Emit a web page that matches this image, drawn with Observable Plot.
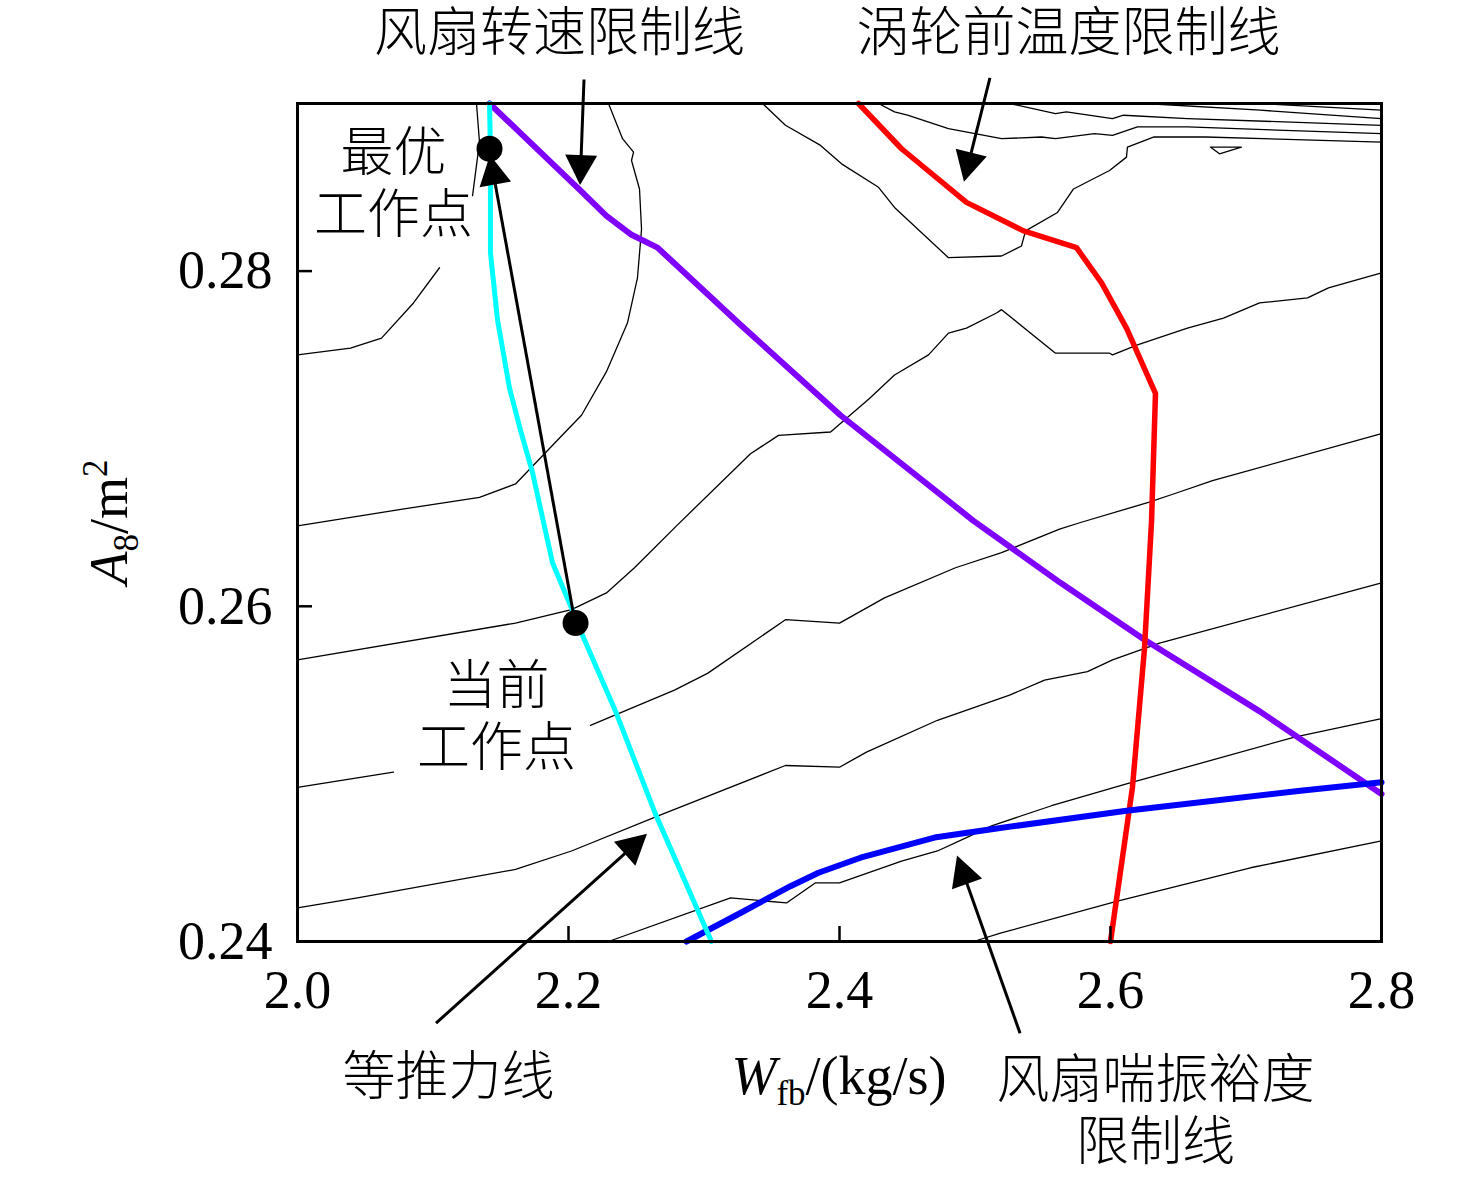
<!DOCTYPE html>
<html><head><meta charset="utf-8">
<script src="https://cdn.jsdelivr.net/npm/d3@7"></script>
<script src="https://cdn.jsdelivr.net/npm/@observablehq/plot@0.6"></script>
<style>html,body{margin:0;padding:0;background:#fff;}</style>
</head><body><div id="chart"></div>
<script>
// ---------- data ----------
const wfbTicks = [2.0, 2.2, 2.4, 2.6, 2.8];
const wfbTickLabels = ["2.0", "2.2", "2.4", "2.6", "2.8"];
const a8Ticks = [0.24, 0.26, 0.28];
const a8TickLabels = ["0.24", "0.26", "0.28"];

// limit lines [Wfb, A8]
const thrustLine = [[2.1417,0.2900],[2.1424,0.2872],[2.1424,0.2811],[2.1476,0.2771],[2.1565,0.2730],[2.1646,0.2705],[2.1734,0.2680],[2.1816,0.2650],[2.1882,0.2626],[2.2022,0.2599],[2.2096,0.2584],[2.2354,0.2536],[2.2642,0.2476],[2.3055,0.2400]];
const fanSpeedLine = [[2.1417,0.2900],[2.2089,0.2848],[2.2280,0.2833],[2.2458,0.2822],[2.2657,0.2814],[2.3269,0.2768],[2.4007,0.2714],[2.4989,0.2651],[2.5631,0.2614],[2.6251,0.2580],[2.7107,0.2537],[2.8000,0.2488]];
const turbineTempLine = [[2.4140,0.2900],[2.4458,0.2873],[2.4937,0.2841],[2.5358,0.2824],[2.5749,0.2814],[2.5934,0.2793],[2.6118,0.2766],[2.6332,0.2727],[2.6303,0.2651],[2.6251,0.2575],[2.6162,0.2492],[2.6000,0.2400]];
const surgeLine = [[2.2871,0.2400],[2.3269,0.2417],[2.3638,0.2433],[2.3845,0.2441],[2.4155,0.2450],[2.4517,0.2458],[2.4701,0.2462],[2.5122,0.2467],[2.6118,0.2478],[2.7402,0.2490],[2.8000,0.2495]];

// contour lines (null = break)
const contour1 = [[2.4989,0.2400],[2.5188,0.2405],[2.6044,0.2424],[2.7033,0.2444],[2.8000,0.2460]];
const contour2 = [[2.2295,0.2400],[2.3196,0.2426],[2.3609,0.2423],[2.3823,0.2435],[2.4000,0.2435],[2.4458,0.2448],[2.4723,0.2454],[2.4937,0.2462],[2.5122,0.2469],[2.5565,0.2481],[2.6118,0.2494],[2.7358,0.2522],[2.8000,0.2533]];
const contour3 = [[2.0000,0.2420],[2.0443,0.2426],[2.1609,0.2443],[2.2022,0.2454],[2.2694,0.2476],[2.3601,0.2505],[2.4000,0.2504],[2.4199,0.2513],[2.4723,0.2532],[2.5255,0.2547],[2.5513,0.2556],[2.5830,0.2561],[2.6015,0.2568],[2.6362,0.2578],[2.8000,0.2614]];
const contour4 = [[2.0000,0.2492],[2.0708,0.2501],null,[2.2162,0.2529],[2.2782,0.2550],[2.3026,0.2560],[2.3601,0.2592],[2.4000,0.2590],[2.4332,0.2605],[2.4856,0.2623],[2.5196,0.2632],[2.5624,0.2646],[2.5779,0.2650],[2.6280,0.2662],[2.6465,0.2667],[2.6753,0.2675],[2.8000,0.2703]];
const contour5 = [[2.0000,0.2568],[2.1609,0.2590],[2.2022,0.2598],[2.2280,0.2608],[2.2487,0.2623],[2.2797,0.2648],[2.3343,0.2691],[2.3550,0.2702],[2.3934,0.2704],[2.4007,0.2709],[2.4221,0.2724],[2.4406,0.2738],[2.4657,0.2750],[2.4804,0.2763],[2.4937,0.2766],[2.5159,0.2775],[2.5196,0.2777],[2.5594,0.2751],[2.5993,0.2751],[2.6015,0.2750],[2.6199,0.2756],[2.6568,0.2766],[2.6834,0.2772],[2.7100,0.2781],[2.7454,0.2784],[2.7609,0.2790],[2.8000,0.2799]];
const contour6 = [[2.0000,0.2648],[2.0775,0.2658],[2.1343,0.2665],[2.1609,0.2673],[2.1941,0.2701],[2.2096,0.2714],[2.2280,0.2740],[2.2435,0.2769],[2.2509,0.2796],[2.2539,0.2825],[2.2524,0.2849],[2.2465,0.2866],[2.2480,0.2871],[2.2399,0.2879],[2.2295,0.2900]];
const contour7 = [[2.1321,0.2900],[2.1343,0.2877],[2.1292,0.2845],null,[2.1048,0.2802],[2.0856,0.2781],[2.0620,0.2760],[2.0391,0.2754],[2.0000,0.2750]];
const contour8 = [[2.3432,0.2900],[2.3601,0.2887],[2.3860,0.2875],[2.4015,0.2864],[2.4288,0.2850],[2.4406,0.2838],[2.4804,0.2808],[2.5196,0.2809],[2.5343,0.2815],[2.5373,0.2824],[2.5609,0.2835],[2.5727,0.2849],[2.5993,0.2860],[2.6118,0.2868],[2.6125,0.2874],[2.6317,0.2880],[2.6701,0.2880],[2.8000,0.2877]];
const contour9 = [[2.4288,0.2900],[2.4406,0.2895],[2.4502,0.2893],[2.4804,0.2885],[2.5196,0.2879],[2.5491,0.2880],[2.5594,0.2879],[2.5882,0.2882],[2.6015,0.2881],[2.6199,0.2886],[2.6568,0.2886],[2.8000,0.2882]];
const contour10 = [[2.5255,0.2900],[2.5594,0.2894],[2.5675,0.2895],[2.6015,0.2891],[2.6096,0.2893],[2.6568,0.2891],[2.8000,0.2887]];
const contour11 = [[2.6251,0.2900],[2.7107,0.2896],[2.8000,0.2891]];
const contour12 = [[2.7100,0.2900],[2.8000,0.2896]];
const contour13 = [[2.6737,0.2874],[2.6966,0.2874],[2.6804,0.2870],[2.6737,0.2874]];
const contours = [contour1, contour2, contour3, contour4, contour5, contour6, contour7, contour8, contour9, contour10, contour11, contour12, contour13];

// operating points
const pointNames = ["最优工作点", "当前工作点"];
const pointWfb = [2.1417, 2.2052];
const pointA8 = [0.2873, 0.2590];

// annotation texts
const noteTexts = ["风扇转速限制线", "涡轮前温度限制线", "最优\n工作点", "当前\n工作点", "等推力线", "风扇喘振裕度\n限制线"];
const noteWfb = [2.1934, 2.5690, 2.0708, 2.1469, 2.1114, 2.6332];
const noteA8 = [0.2943, 0.2943, 0.2853, 0.2535, 0.2320, 0.2300];

// annotation arrows: tail -> head
const arrowFromWfb = [2.2118, 2.5114, 2.2052, 2.1026, 2.5336];
const arrowFromA8  = [0.2914, 0.2915, 0.2590, 0.2351, 0.2345];
const arrowToWfb   = [2.2089, 2.4922, 2.1424, 2.2583, 2.4871];
const arrowToA8    = [0.2851, 0.2853, 0.2869, 0.2464, 0.2451];

// ---------- build ----------
const SERIF = "Liberation Serif, Times New Roman, serif";
const CJK = "Noto Sans CJK SC, Noto Sans, sans-serif";

const contourRows = [];
contours.forEach((c, id) => c.forEach(p => contourRows.push({id, x: p ? p[0] : NaN, y: p ? p[1] : NaN})));
const toRows = arr => arr.map(([x, y]) => ({x, y}));
const points = pointNames.map((n, i) => ({n, x: pointWfb[i], y: pointA8[i]}));
const notes = noteTexts.map((t, i) => ({t, x: noteWfb[i], y: noteA8[i]}));
const arrows = arrowFromWfb.map((_, i) => ({x1: arrowFromWfb[i], y1: arrowFromA8[i], x2: arrowToWfb[i], y2: arrowToA8[i]}));

function arrowMark(data) {
  return (index, scales) => {
    const g = d3.create("svg:g");
    for (const a of data) {
      const x1 = scales.x(a.x1), y1 = scales.y(a.y1), x2 = scales.x(a.x2), y2 = scales.y(a.y2);
      const ang = Math.atan2(y2 - y1, x2 - x1);
      const L = 30, W = 16;
      const bx = x2 - L * Math.cos(ang), by = y2 - L * Math.sin(ang);
      g.append("line").attr("x1", x1).attr("y1", y1).attr("x2", bx + Math.cos(ang) * 2).attr("y2", by + Math.sin(ang) * 2)
        .attr("stroke", "black").attr("stroke-width", 3);
      const px = -Math.sin(ang) * W, py = Math.cos(ang) * W;
      g.append("path").attr("d", `M${x2},${y2}L${bx + px},${by + py}L${bx - px},${by - py}Z`).attr("fill", "black");
    }
    return g.node();
  };
}

function axisLabelMark() {
  return (index, scales, values, dims) => {
    const g = d3.create("svg:g").attr("font-family", SERIF).attr("font-size", 54).attr("fill", "black");
    const cx = (dims.marginLeft + dims.width - dims.marginRight) / 2;
    const cy = (dims.marginTop + dims.height - dims.marginBottom) / 2;
    const xt = g.append("text").attr("x", cx).attr("y", dims.height - dims.marginBottom + 153).attr("text-anchor", "middle");
    xt.append("tspan").attr("font-style", "italic").text("W");
    xt.append("tspan").attr("font-size", 35).attr("dy", 11).text("fb");
    xt.append("tspan").attr("dy", -11).text("/(kg/s)");
    const yt = g.append("text").attr("transform", `translate(${dims.marginLeft - 170},${cy}) rotate(-90)`).attr("text-anchor", "middle");
    yt.append("tspan").attr("font-style", "italic").text("A");
    yt.append("tspan").attr("font-size", 35).attr("dy", 11).text("8");
    yt.append("tspan").attr("dy", -11).text("/m");
    yt.append("tspan").attr("font-size", 35).attr("dy", -20).text("2");
    return g.node();
  };
}

const chart = Plot.plot({
  width: 1476,
  height: 1178,
  marginLeft: 297,
  marginRight: 95,
  marginTop: 103,
  marginBottom: 237,
  x: {domain: [2.0, 2.8]},
  y: {domain: [0.24, 0.29]},
  style: {background: "white", color: "black", overflow: "visible"},
  marks: [
    Plot.line(contourRows, {x: "x", y: "y", z: "id", stroke: "black", strokeWidth: 1.3, strokeLinejoin: "round"}),
    Plot.line(toRows(fanSpeedLine), {x: "x", y: "y", stroke: "#7f00ff", strokeWidth: 6, strokeLinejoin: "round", strokeLinecap: "round"}),
    Plot.line(toRows(turbineTempLine), {x: "x", y: "y", stroke: "#ff0000", strokeWidth: 5.5, strokeLinejoin: "round", strokeLinecap: "round"}),
    Plot.line(toRows(surgeLine), {x: "x", y: "y", stroke: "#0000ff", strokeWidth: 6, strokeLinejoin: "round", strokeLinecap: "round"}),
    Plot.line(toRows(thrustLine), {x: "x", y: "y", stroke: "#00ffff", strokeWidth: 5, strokeLinejoin: "round", strokeLinecap: "round"}),
    Plot.frame({stroke: "black", strokeWidth: 3}),
    Plot.axisX({ticks: wfbTicks, tickSize: -15, strokeWidth: 2.5, tickFormat: () => "", label: null}),
    Plot.axisY({ticks: a8Ticks, tickSize: -15, strokeWidth: 2.5, tickFormat: () => "", label: null}),
    Plot.axisX({ticks: wfbTicks, tickSize: 0, tickPadding: 28, tickFormat: (d, i) => wfbTickLabels[i], fontSize: 54, fontFamily: SERIF, label: null}),
    Plot.axisY({ticks: a8Ticks, tickSize: 0, tickPadding: 25, tickFormat: (d, i) => a8TickLabels[i], fontSize: 54, fontFamily: SERIF, label: null}),
    arrowMark(arrows),
    Plot.dot(points, {x: "x", y: "y", r: 13, fill: "black", stroke: "none"}),
    Plot.text(notes, {x: "x", y: "y", text: "t", fontSize: 53, fontWeight: 300, fontFamily: CJK, lineHeight: 1.17, lineAnchor: "middle", textAnchor: "middle", fill: "black"}),
    axisLabelMark()
  ]
});
document.getElementById("chart").appendChild(chart);
</script>
</body></html>
